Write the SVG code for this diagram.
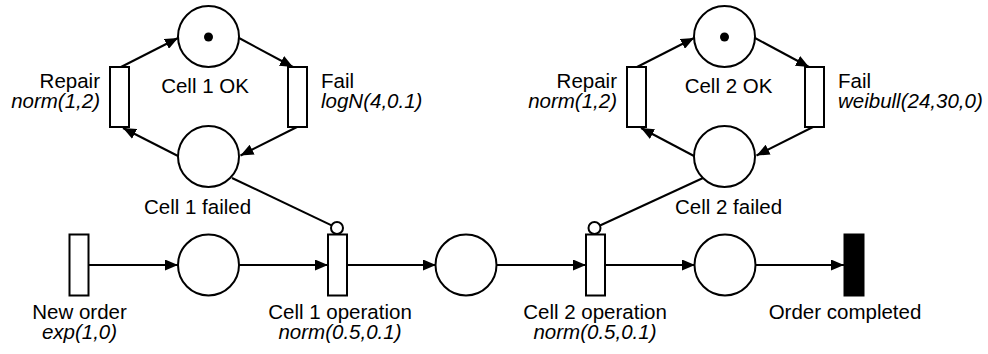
<svg xmlns="http://www.w3.org/2000/svg" width="988" height="354" viewBox="0 0 988 354">
  <style>
    .place { fill: #fff; stroke: #000; stroke-width: 2; }
    .trans { fill: #fff; stroke: #000; stroke-width: 2; }
    .sink { fill: #000; stroke: #000; stroke-width: 2; }
    .arc { fill: none; stroke: #000; stroke-width: 2; }
    .arrow { marker-end: url(#head); }
    .inhib { fill: #fff; stroke: #000; stroke-width: 2; }
    text { font-family: "Liberation Sans", Arial, sans-serif; font-size: 20.5px; fill: #000; }
    .dist { font-style: italic; }
    .mid { text-anchor: middle; }
    .end { text-anchor: end; }
  </style>
  <defs>
    <marker id="head" markerWidth="13" markerHeight="11" refX="13" refY="5.5" orient="auto" markerUnits="userSpaceOnUse">
      <path d="M0,0 L13,5.5 L0,11 z" fill="#000"/>
    </marker>
  </defs>

  <!-- arcs -->
  <g id="connectors">
    <!-- cell 1 failure/repair loop -->
    <line class="arc arrow" x1="121" y1="67" x2="178" y2="38"/>
    <line class="arc arrow" x1="239" y1="38" x2="293" y2="67"/>
    <line class="arc arrow" x1="297" y1="127" x2="240.5" y2="155.5"/>
    <line class="arc arrow" x1="178" y1="156" x2="123" y2="128"/>
    <!-- cell 2 failure/repair loop -->
    <line class="arc arrow" x1="637" y1="67" x2="694" y2="38"/>
    <line class="arc arrow" x1="755" y1="38" x2="809" y2="67"/>
    <line class="arc arrow" x1="813" y1="127" x2="756.5" y2="155.5"/>
    <line class="arc arrow" x1="694" y1="156" x2="641" y2="128"/>
    <!-- order flow -->
    <line class="arc arrow" x1="89" y1="265" x2="178" y2="265"/>
    <line class="arc arrow" x1="239" y1="265" x2="328" y2="265"/>
    <line class="arc arrow" x1="347" y1="265" x2="436" y2="265"/>
    <line class="arc arrow" x1="496" y1="265" x2="586" y2="265"/>
    <line class="arc arrow" x1="605" y1="265" x2="695" y2="265"/>
    <line class="arc arrow" x1="755" y1="265" x2="844" y2="265"/>
    <!-- inhibitor arcs -->
    <line class="arc" x1="232" y1="178" x2="331.6" y2="225.4"/>
    <circle class="inhib" cx="337" cy="228" r="6"/>
    <line class="arc" x1="703" y1="178" x2="600" y2="225.5"/>
    <circle class="inhib" cx="594.5" cy="228" r="6"/>
  </g>

  <!-- cell 1 -->
  <g id="cell1-ok">
    <circle class="place" cx="208.5" cy="36.5" r="30.5"/>
    <circle cx="208.5" cy="37" r="4.5" fill="#000"/>
    <text class="mid" x="205" y="93">Cell 1 OK</text>
  </g>
  <g id="cell1-fail">
    <rect class="trans" x="288" y="67" width="19" height="60"/>
    <text x="321" y="88">Fail</text>
    <text class="dist" x="321" y="108">logN(4,0.1)</text>
  </g>
  <g id="cell1-failed">
    <circle class="place" cx="208.5" cy="156.5" r="30.5"/>
    <text class="mid" x="197.5" y="214">Cell 1 failed</text>
  </g>
  <g id="cell1-repair">
    <rect class="trans" x="110" y="67" width="19" height="60"/>
    <text class="end" x="100" y="88">Repair</text>
    <text class="dist end" x="100" y="108">norm(1,2)</text>
  </g>

  <!-- cell 2 -->
  <g id="cell2-ok">
    <circle class="place" cx="724.5" cy="36.5" r="30.5"/>
    <circle cx="724.5" cy="37" r="4.5" fill="#000"/>
    <text class="mid" x="728.5" y="93">Cell 2 OK</text>
  </g>
  <g id="cell2-fail">
    <rect class="trans" x="805" y="67" width="19" height="60"/>
    <text x="838" y="88">Fail</text>
    <text class="dist" x="838" y="108">weibull(24,30,0)</text>
  </g>
  <g id="cell2-failed">
    <circle class="place" cx="724.5" cy="156.5" r="30.5"/>
    <text class="mid" x="728.5" y="214">Cell 2 failed</text>
  </g>
  <g id="cell2-repair">
    <rect class="trans" x="627" y="67" width="19" height="60"/>
    <text class="end" x="617" y="88">Repair</text>
    <text class="dist end" x="617" y="108">norm(1,2)</text>
  </g>

  <!-- order flow -->
  <g id="new-order">
    <rect class="trans" x="69.5" y="234.5" width="19" height="61"/>
    <text class="mid" x="79.5" y="319">New order</text>
    <text class="dist mid" x="79.5" y="339">exp(1,0)</text>
  </g>
  <g id="queue1">
    <circle class="place" cx="208.5" cy="265" r="30.5"/>
  </g>
  <g id="cell1-operation">
    <rect class="trans" x="328" y="234.5" width="19" height="61"/>
    <text class="mid" x="340" y="319">Cell 1 operation</text>
    <text class="dist mid" x="340" y="339">norm(0.5,0.1)</text>
  </g>
  <g id="queue2">
    <circle class="place" cx="466" cy="265" r="30.5"/>
  </g>
  <g id="cell2-operation">
    <rect class="trans" x="586" y="234.5" width="19" height="61"/>
    <text class="mid" x="595" y="319">Cell 2 operation</text>
    <text class="dist mid" x="595" y="339">norm(0.5,0.1)</text>
  </g>
  <g id="queue3">
    <circle class="place" cx="725" cy="265" r="30.5"/>
  </g>
  <g id="order-completed">
    <rect class="sink" x="844.5" y="234.5" width="19" height="61"/>
    <text class="mid" x="845" y="319">Order completed</text>
  </g>
</svg>
